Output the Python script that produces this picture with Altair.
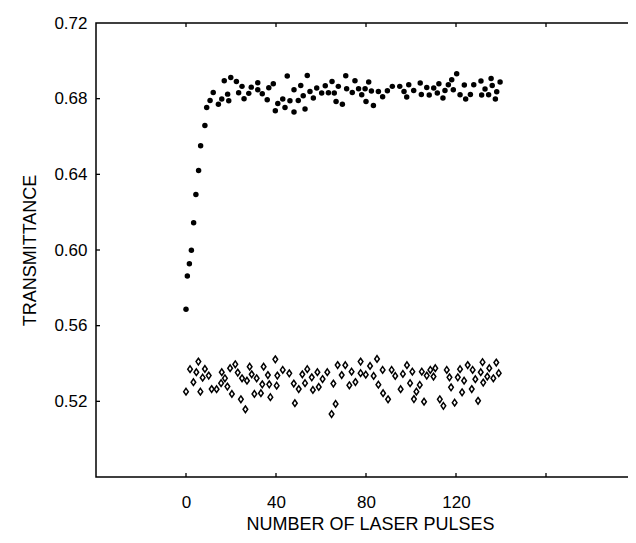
import altair as alt
import pandas as pd

# Filled circles (upper series)
pulses_a = [0, 0.6, 1.5, 2.4, 3.4, 4.4, 5.6, 6.5, 8.4, 9.2, 10.7, 12.1,
            14.4, 15.9, 17.0, 18.5, 19.0, 19.9, 22.4, 23.4, 24.9, 25.8, 27.9, 29.0,
            31.9, 31.9, 33.9, 36.1, 36.8, 38.8, 39.7, 40.8, 43.0, 44.0, 45.0, 46.2, 48.0, 48.0,
            49.9, 51.0, 52.1, 52.9, 53.9, 55.1, 56.6, 58.1, 60.3, 61.9, 63.3, 64.9, 65.9, 66.7, 67.7,
            69.5, 71.0, 71.4, 73.9, 75.1, 76.7, 78.1, 79.6, 80.0, 81.2, 82.4, 83.3, 85.5, 87.4,
            89.5, 91.7, 95.0, 96.9, 98.1, 99.0, 101.2, 104.1, 104.6, 107.0, 108.1, 110.1, 111.7,
            112.4, 114.2, 115.1, 116.6, 118.1, 118.8, 120.3, 121.8, 123.7, 124.3, 126.4, 127.9,
            131.1, 131.4, 132.9, 134.5, 135.6, 136.1, 137.5, 138.1, 139.6]
trans_a = [0.5687, 0.5863, 0.5927, 0.5999, 0.6144, 0.6293, 0.6420, 0.6551, 0.6658, 0.6753, 0.6790, 0.6833,
           0.6771, 0.6798, 0.6895, 0.6824, 0.6789, 0.6912, 0.6891, 0.6831, 0.6865, 0.6800, 0.6828, 0.6861,
           0.6884, 0.6847, 0.6826, 0.6794, 0.6858, 0.6879, 0.6736, 0.6775, 0.6798, 0.6753, 0.6920, 0.6789,
           0.6729, 0.6847, 0.6790, 0.6870, 0.6815, 0.6745, 0.6923, 0.6838, 0.6803, 0.6856, 0.6830, 0.6868,
           0.6831, 0.6891, 0.6830, 0.6785, 0.6865,
           0.6771, 0.6921, 0.6852, 0.6833, 0.6895, 0.6852, 0.6821, 0.6852, 0.6785, 0.6888, 0.6840, 0.6764,
           0.6838, 0.6810, 0.6842, 0.6865, 0.6865, 0.6838, 0.6809, 0.6874, 0.6843, 0.6883, 0.6822, 0.6859,
           0.6819, 0.6856, 0.6830, 0.6879, 0.6803, 0.6843, 0.6874, 0.6900, 0.6847, 0.6932, 0.6821, 0.6872,
           0.6798, 0.6822, 0.6874, 0.6893, 0.6819, 0.6851, 0.6821, 0.6907, 0.6870, 0.6798, 0.6837, 0.6888]

# Open diamonds (lower series)
pulses_b = [0, 1.8, 3.3, 4.6, 5.5, 6.4, 7.4, 8.4, 10.1, 11.4, 13.6, 15.6, 15.9, 17.3, 18.4, 19.6,
            20.4, 21.9, 23.0, 24.4, 24.9, 26.4, 27.1, 28.3, 29.2, 30.4, 31.4, 33.3, 33.9, 34.5,
            36.4, 37.0, 37.5, 39.7, 40.3, 40.6, 43.0, 45.9, 47.9, 48.4, 50.1, 51.7, 52.9, 53.9,
            55.9, 56.4, 58.4, 59.0, 60.7, 62.8, 64.7, 65.5, 66.5, 67.4, 69.2, 70.8, 72.6, 73.6,
            75.3, 77.6, 77.6, 79.9, 81.8, 83.4, 84.9, 85.5, 87.4, 87.6, 89.8, 91.4, 93.0, 95.4,
            96.4, 98.2, 99.6, 100.6, 101.3, 102.4, 103.9, 104.8, 105.8, 107.0, 108.6, 110.0,
            110.8, 112.8, 114.4, 115.9, 117.1, 117.8, 119.4, 120.8, 121.8, 122.7, 123.6, 125.2,
            127.0, 127.4, 128.6, 129.8, 131.0, 131.8, 132.1, 133.9, 134.8, 136.6, 137.9, 139.0]
trans_b = [0.5251, 0.5370, 0.5301, 0.5354, 0.5410, 0.5251, 0.5325, 0.5371, 0.5336, 0.5265, 0.5264,
           0.5296, 0.5354, 0.5322, 0.5278, 0.5375, 0.5239, 0.5396, 0.5352, 0.5211, 0.5322, 0.5158,
           0.5309, 0.5383, 0.5343, 0.5239, 0.5322, 0.5243, 0.5290, 0.5383, 0.5339, 0.5290, 0.5222,
           0.5422, 0.5283, 0.5336, 0.5366, 0.5348, 0.5294, 0.5190, 0.5265, 0.5343, 0.5296, 0.5370,
           0.5327, 0.5260, 0.5354, 0.5276, 0.5318, 0.5354, 0.5133, 0.5294, 0.5186, 0.5392, 0.5339,
           0.5391, 0.5285, 0.5357, 0.5302, 0.5410, 0.5349, 0.5341, 0.5387, 0.5334, 0.5424, 0.5288,
           0.5366, 0.5243, 0.5211, 0.5366, 0.5334, 0.5264, 0.5345, 0.5391, 0.5296, 0.5357, 0.5212,
           0.5251, 0.5287, 0.5357, 0.5198, 0.5336, 0.5366, 0.5331, 0.5375, 0.5211, 0.5176, 0.5366,
           0.5327, 0.5274, 0.5193, 0.5327, 0.5370, 0.5248, 0.5309, 0.5392, 0.5265, 0.5366, 0.5317,
           0.5203, 0.5354, 0.5407, 0.5299, 0.5331, 0.5375, 0.5322, 0.5405, 0.5349]

x_label_values = [0, 40, 80, 120]
x_tick_values = [0, 40, 80, 120, 160]
y_tick_values = [0.52, 0.56, 0.60, 0.64, 0.68, 0.72]
y_minor_ticks = [0.52, 0.56, 0.60, 0.64, 0.68]

W, H = 540, 454
FONT = "Liberation Sans"

df_a = pd.DataFrame({"pulses": pulses_a, "T": trans_a})
df_b = pd.DataFrame({"pulses": pulses_b, "T": trans_b})
df_xt = pd.DataFrame({"pulses": x_tick_values})
df_yt = pd.DataFrame({"T": y_minor_ticks})

xscale = alt.Scale(domain=[-40, 200], nice=False, zero=False)
yscale = alt.Scale(domain=[0.48, 0.72], nice=False, zero=False)

x_axis = alt.Axis(values=x_label_values, grid=False, ticks=False, tickSize=0, domain=False,
                  labelFontSize=17, labelFont=FONT, labelColor="black", labelPadding=17,
                  title="NUMBER OF LASER PULSES", titleFont=FONT, titleFontSize=18,
                  titleFontWeight="normal", titleColor="black", titleX=274, titleY=52,
                  titleBaseline="alphabetic", titleAlign="center")
y_axis = alt.Axis(values=y_tick_values, format=".2f", grid=False, ticks=False, tickSize=0,
                  domain=False, labelFontSize=17, labelFont=FONT, labelColor="black",
                  labelPadding=9, title="TRANSMITTANCE", titleFont=FONT, titleFontSize=18,
                  titleFontWeight="normal", titleColor="black", titleAngle=270, titleX=-61,
                  titleY=H / 2, titleBaseline="alphabetic", titleAlign="center")

X = alt.X("pulses:Q", scale=xscale, axis=x_axis)
Y = alt.Y("T:Q", scale=yscale, axis=y_axis)

filled = alt.Chart(df_a).mark_point(shape="circle", filled=True, color="black", size=30, opacity=1).encode(
    x=X, y=Y)

diamond_path = "M0,-1L0.7,0L0,1L-0.7,0Z"
diamonds = alt.Chart(df_b).mark_point(shape=diamond_path, filled=False, stroke="black", fill="white",
                                      fillOpacity=1, strokeWidth=1.5, size=44, opacity=1).encode(
    x=X, y=Y)

tick_len = 4
left_ticks = alt.Chart(df_yt).mark_rule(color="black", strokeWidth=1.3).encode(
    y=Y, x=alt.value(0), x2=alt.value(tick_len))
right_ticks = alt.Chart(df_yt).mark_rule(color="black", strokeWidth=1.3).encode(
    y=Y, x=alt.value(W - tick_len - 2), x2=alt.value(W))
bottom_ticks = alt.Chart(df_xt).mark_rule(color="black", strokeWidth=1.3).encode(
    x=X, y=alt.value(H), y2=alt.value(H - tick_len))
top_ticks = alt.Chart(df_xt).mark_rule(color="black", strokeWidth=1.3).encode(
    x=X, y=alt.value(0), y2=alt.value(tick_len))

chart = alt.layer(filled, diamonds, left_ticks, right_ticks, bottom_ticks, top_ticks).properties(
    width=W, height=H,
    padding={"left": 88, "top": 15, "right": -8, "bottom": 56},
    autosize=alt.AutoSizeParams(type="none"),
    background="white",
).configure_view(stroke="black", strokeWidth=1.5)

chart.save("out.html", embed_options={"renderer": "svg", "actions": False})
